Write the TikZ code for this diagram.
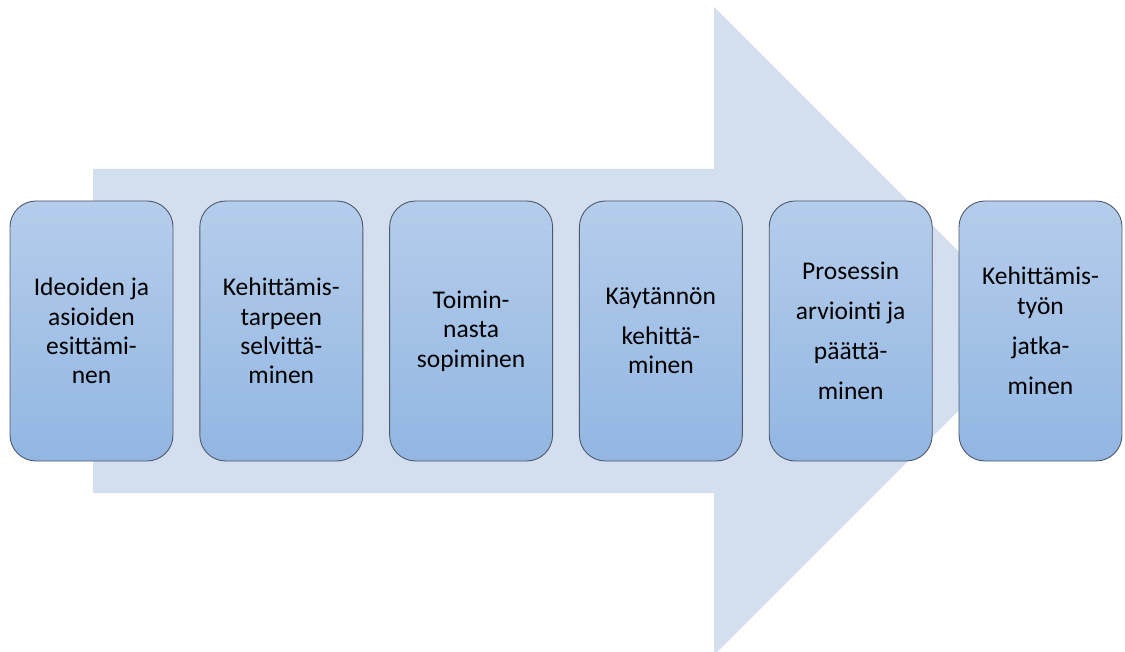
\documentclass[tikz,border=0pt]{standalone}
\usepackage{fontspec}
\setmainfont{Carlito}
\definecolor{arrowfill}{RGB}{211,222,239}
\definecolor{boxtop}{RGB}{181,205,235}
\definecolor{boxbottom}{RGB}{146,182,226}
\definecolor{boxline}{RGB}{78,88,108}
\begin{document}
\begin{tikzpicture}[x=1pt,y=-1pt,
  stage/.style={draw=boxline, line width=0.9pt, rounded corners=26pt,
    top color=boxtop, bottom color=boxbottom,
    minimum width=163pt, minimum height=260pt, inner sep=0pt,
    align=center, text=black,
    font=\fontsize{25.5}{29.3}\selectfont}]
  \useasboundingbox (0,0) rectangle (1125,652);
  \begin{scope}
    \clip (0,0) rectangle (1125,652);
    % large background arrow
    \fill[arrowfill] (93,169) -- (714,169) -- (714,7) -- (1038,331)
      -- (714,655) -- (714,493) -- (93,493) -- cycle;
  \end{scope}
  % process stages
  \node[stage] (s1) at (91.5,331) {Ideoiden ja\\asioiden\\esittämi-\\nen};
  \node[stage] (s2) at (281.3,331) {Kehittämis-\\tarpeen\\selvittä-\\minen};
  \node[stage] (s3) at (471.1,331) {Toimin-\\nasta\\sopiminen};
  \node[stage] (s4) at (660.9,331) {Käytännön\\[10.7pt]kehittä-\\minen};
  \node[stage] (s5) at (850.7,331) {Prosessin\\[10.7pt]arviointi ja\\[10.7pt]päättä-\\[10.7pt]minen};
  \node[stage] (s6) at (1040.5,331) {Kehittämis-\\työn\\[11pt]jatka-\\[10.7pt]minen};
\end{tikzpicture}
\end{document}
